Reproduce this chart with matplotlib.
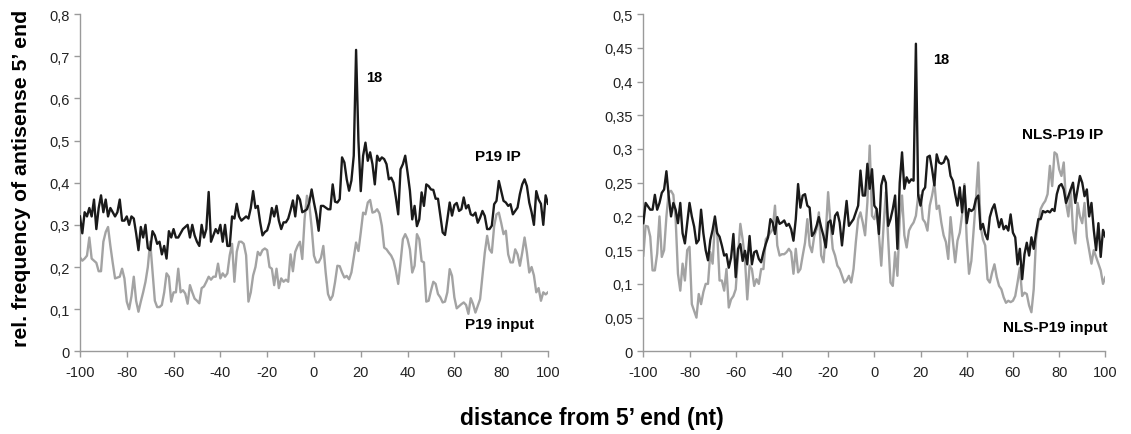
import numpy as np
import matplotlib
matplotlib.use("Agg")
import matplotlib.pyplot as plt

plt.rcParams["font.family"] = ["Liberation Sans", "DejaVu Sans"]

# ── data ──────────────────────────────────────────────────────────────────────
pos = np.arange(-100, 101)          # distance from 5' end (nt)

p19_ip = [
    0.32, 0.28, 0.33, 0.32, 0.34, 0.32, 0.36, 0.29, 0.34, 0.37,
    0.33, 0.36, 0.32, 0.34, 0.33, 0.32, 0.33, 0.36, 0.31, 0.31,
    0.32, 0.30, 0.32, 0.315, 0.28, 0.24, 0.295, 0.27, 0.30, 0.245,
    0.24, 0.285, 0.275, 0.255, 0.26, 0.23, 0.25, 0.22, 0.285, 0.27,
    0.29, 0.27, 0.27, 0.28, 0.29, 0.295, 0.30,
    0.27, 0.30, 0.275, 0.26, 0.25, 0.30, 0.27, 0.29, 0.378, 0.26,
    0.275, 0.29, 0.28, 0.30, 0.26, 0.30, 0.25, 0.25, 0.32, 0.315,
    0.35, 0.32, 0.31, 0.315, 0.32, 0.315, 0.34, 0.38, 0.34, 0.345,
    0.306, 0.275, 0.283, 0.287, 0.306, 0.34, 0.32, 0.345, 0.31, 0.29,
    0.306, 0.306, 0.315, 0.335, 0.358, 0.32, 0.37, 0.36,
    0.330, 0.333, 0.337, 0.353, 0.384, 0.353, 0.325, 0.286, 0.345, 0.345,
    0.341, 0.337, 0.337, 0.396, 0.355, 0.353, 0.361, 0.460, 0.448, 0.408,
    0.381, 0.405, 0.464, 0.715, 0.50, 0.38, 0.464, 0.495, 0.452, 0.472,
    0.444, 0.396, 0.464, 0.452, 0.460, 0.456, 0.444, 0.408, 0.412, 0.400,
    0.365, 0.325, 0.432, 0.444, 0.464, 0.424, 0.381,
    0.313, 0.345, 0.297, 0.313, 0.377, 0.345, 0.396, 0.392, 0.384, 0.383,
    0.362, 0.362, 0.322, 0.282, 0.276, 0.313, 0.353, 0.322, 0.347, 0.352,
    0.333, 0.337, 0.365, 0.339, 0.347, 0.325, 0.322, 0.329, 0.305, 0.317,
    0.333, 0.321, 0.290, 0.290, 0.298, 0.349, 0.357, 0.404, 0.380, 0.357,
    0.353, 0.345, 0.349, 0.325, 0.333, 0.341, 0.373, 0.396, 0.408, 0.392,
    0.353,
    0.33, 0.30, 0.38, 0.36, 0.35, 0.30, 0.37, 0.35,
]

p19_input = [
    0.223, 0.215, 0.22, 0.227, 0.27, 0.22, 0.215, 0.21, 0.19, 0.19,
    0.26, 0.283, 0.295, 0.25, 0.21, 0.173, 0.175, 0.177, 0.196, 0.173,
    0.118, 0.10, 0.13, 0.177, 0.12, 0.094, 0.118, 0.14, 0.165, 0.20,
    0.26, 0.19, 0.12, 0.105, 0.105, 0.11, 0.14, 0.185, 0.177, 0.118,
    0.14, 0.14, 0.196, 0.14, 0.145, 0.137, 0.113,
    0.157, 0.14, 0.125, 0.12, 0.114, 0.15, 0.154, 0.165, 0.177, 0.17,
    0.177, 0.177, 0.208, 0.173, 0.185, 0.177, 0.185, 0.228, 0.255, 0.165,
    0.236, 0.26, 0.26, 0.255, 0.228, 0.118, 0.14, 0.18, 0.20, 0.236,
    0.228, 0.24, 0.244, 0.24, 0.20, 0.196, 0.157, 0.196, 0.15, 0.173,
    0.165, 0.17, 0.165, 0.23, 0.19, 0.236, 0.25, 0.26,
    0.219, 0.314, 0.369, 0.349, 0.294, 0.227, 0.211, 0.211, 0.222, 0.250,
    0.187, 0.136, 0.122, 0.132, 0.164, 0.203, 0.202, 0.187, 0.175, 0.179,
    0.171, 0.187, 0.222, 0.258, 0.238, 0.282, 0.329, 0.325, 0.353, 0.359,
    0.329, 0.331, 0.337, 0.327, 0.298, 0.246, 0.242, 0.234, 0.227, 0.215,
    0.191, 0.160, 0.211, 0.266, 0.278, 0.266, 0.242,
    0.187, 0.203, 0.278, 0.266, 0.214, 0.211, 0.118, 0.120, 0.144, 0.165,
    0.160, 0.136, 0.128, 0.116, 0.118, 0.140, 0.195, 0.179, 0.128, 0.102,
    0.107, 0.112, 0.116, 0.110, 0.089, 0.126, 0.112, 0.092, 0.108, 0.124,
    0.179, 0.234, 0.274, 0.242, 0.234, 0.297, 0.325, 0.329, 0.305, 0.278,
    0.286, 0.230, 0.211, 0.211, 0.242, 0.230, 0.203, 0.234, 0.270, 0.234,
    0.187,
    0.20, 0.18, 0.14, 0.15, 0.12, 0.14, 0.135, 0.14,
]

nls_ip = [
    0.19, 0.22, 0.215, 0.21, 0.21, 0.232, 0.21, 0.22, 0.235, 0.24,
    0.267, 0.23, 0.20, 0.22, 0.21, 0.19, 0.22, 0.175, 0.16, 0.19,
    0.22, 0.20, 0.185, 0.16, 0.165, 0.21, 0.175, 0.15, 0.135, 0.165,
    0.18, 0.20, 0.175, 0.17, 0.157,
    0.142, 0.144, 0.124, 0.139, 0.174, 0.110, 0.152, 0.159, 0.134, 0.149,
    0.129, 0.171, 0.129, 0.147, 0.149, 0.137, 0.132, 0.147, 0.159, 0.169,
    0.196, 0.191, 0.174, 0.199, 0.189, 0.191, 0.194, 0.186, 0.189, 0.181,
    0.164, 0.196, 0.248, 0.213, 0.231, 0.233, 0.216, 0.213, 0.171, 0.176,
    0.186, 0.199, 0.184, 0.171, 0.154, 0.191, 0.194, 0.174,
    0.201, 0.206, 0.191, 0.157, 0.191, 0.223, 0.186, 0.191, 0.196, 0.206,
    0.216, 0.268, 0.231, 0.231, 0.278, 0.241, 0.270, 0.216, 0.211, 0.174,
    0.246, 0.260, 0.250, 0.186, 0.196, 0.211, 0.231, 0.152, 0.250, 0.295,
    0.241, 0.258, 0.250, 0.255, 0.253, 0.456, 0.231, 0.216, 0.238, 0.243,
    0.288, 0.290, 0.270, 0.246, 0.292, 0.280, 0.278,
    0.28, 0.289, 0.283, 0.260, 0.253, 0.233, 0.216, 0.243, 0.206, 0.245,
    0.19, 0.211, 0.208, 0.211, 0.226, 0.231, 0.181, 0.189, 0.174, 0.166,
    0.199, 0.211, 0.218, 0.201, 0.184, 0.196, 0.181, 0.186, 0.179, 0.203,
    0.176, 0.169, 0.129, 0.152, 0.107, 0.144, 0.161, 0.142, 0.169, 0.152,
    0.176, 0.196, 0.196, 0.208, 0.206, 0.208, 0.206, 0.211, 0.208, 0.233,
    0.245, 0.248,
    0.24, 0.22, 0.23, 0.24, 0.25, 0.22, 0.24, 0.26, 0.25, 0.23,
    0.24, 0.20, 0.22, 0.18, 0.15, 0.19, 0.14, 0.18, 0.17,
]

nls_input = [
    0.142, 0.186, 0.185, 0.17, 0.12, 0.12, 0.145, 0.20, 0.14, 0.15,
    0.20, 0.236, 0.238, 0.232, 0.196, 0.115, 0.09, 0.13, 0.105, 0.15,
    0.155, 0.07, 0.06, 0.05, 0.085, 0.07, 0.088, 0.1, 0.1, 0.147,
    0.13, 0.19, 0.175, 0.105, 0.105,
    0.090, 0.122, 0.065, 0.077, 0.082, 0.092, 0.142, 0.189, 0.166, 0.137,
    0.077, 0.127, 0.122, 0.097, 0.107, 0.100, 0.122, 0.122, 0.166, 0.171,
    0.176, 0.181, 0.216, 0.157, 0.142, 0.144, 0.144, 0.147, 0.152, 0.147,
    0.115, 0.152, 0.117, 0.122, 0.142, 0.161, 0.196, 0.157, 0.147, 0.171,
    0.181, 0.206, 0.142, 0.132, 0.176,
    0.236, 0.191, 0.152, 0.142, 0.127, 0.122, 0.112, 0.102, 0.105, 0.112,
    0.102, 0.122, 0.162, 0.196, 0.206, 0.191, 0.172, 0.221, 0.305, 0.201,
    0.196, 0.211, 0.172, 0.127, 0.186, 0.236, 0.166, 0.102, 0.097, 0.147,
    0.112, 0.196, 0.231, 0.172, 0.154, 0.179, 0.186, 0.191, 0.201, 0.231,
    0.231, 0.196, 0.191, 0.179, 0.216, 0.231, 0.250, 0.211, 0.216, 0.191,
    0.172, 0.162, 0.137, 0.199, 0.164, 0.132, 0.164, 0.176, 0.203, 0.248,
    0.166, 0.115, 0.134, 0.181, 0.226, 0.280, 0.186, 0.166, 0.157, 0.107,
    0.102, 0.117, 0.129, 0.110, 0.097, 0.092, 0.080, 0.072, 0.075, 0.073,
    0.075, 0.082, 0.102, 0.124, 0.082, 0.087, 0.085, 0.068, 0.058, 0.092,
    0.166, 0.191, 0.211, 0.218, 0.223, 0.233, 0.275, 0.245, 0.295, 0.292,
    0.270, 0.260,
    0.28, 0.22, 0.20, 0.24, 0.18, 0.16, 0.22, 0.20, 0.19, 0.22,
    0.17, 0.15, 0.13, 0.15, 0.14, 0.13, 0.12, 0.10, 0.11,
]

left_yticks = [0, 0.1, 0.2, 0.3, 0.4, 0.5, 0.6, 0.7, 0.8]
left_ylabels = ["0", "0,1", "0,2", "0,3", "0,4", "0,5", "0,6", "0,7", "0,8"]
right_yticks = [0, 0.05, 0.1, 0.15, 0.2, 0.25, 0.3, 0.35, 0.4, 0.45, 0.5]
right_ylabels = ["0", "0,05", "0,1", "0,15", "0,2", "0,25", "0,3", "0,35",
                 "0,4", "0,45", "0,5"]
xticks = [-100, -80, -60, -40, -20, 0, 20, 40, 60, 80, 100]

BLACK = "#1a1a1a"
GREY = "#a3a3a3"
AXC = "#9a9a9a"

fig = plt.figure(figsize=(11.31, 4.35), dpi=100)
ax1 = fig.add_axes([0.0707, 0.190, 0.4138, 0.7754])
ax2 = fig.add_axes([0.5688, 0.190, 0.4085, 0.7754])


def style(ax, yticks, ylabels, ymax):
    ax.set_xlim(-100, 100)
    ax.set_ylim(0, ymax)
    ax.set_xticks(xticks)
    ax.set_xticklabels([str(t) for t in xticks])
    ax.set_yticks(yticks)
    ax.set_yticklabels(ylabels)
    for s in ("top", "right"):
        ax.spines[s].set_visible(False)
    for s in ("left", "bottom"):
        ax.spines[s].set_color(AXC)
        ax.spines[s].set_linewidth(1.0)
    ax.tick_params(axis="both", colors=AXC, labelcolor="#222222",
                   labelsize=10.5, length=4, width=1.0)
    ax.tick_params(axis="x", pad=6)


ax1.plot(pos, p19_input, color=GREY, lw=1.7, zorder=2)
ax1.plot(pos, p19_ip, color=BLACK, lw=1.7, zorder=3)
style(ax1, left_yticks, left_ylabels, 0.8)
ax1.text(22.5, 0.65, "18", fontsize=10.5, fontweight="bold", va="center")
ax1.text(88.5, 0.463, "P19 IP", fontsize=11, fontweight="bold",
         ha="right", va="center")
ax1.text(94, 0.065, "P19 input", fontsize=11, fontweight="bold",
         ha="right", va="center")

ax2.plot(pos, nls_input, color=GREY, lw=1.7, zorder=2)
ax2.plot(pos, nls_ip, color=BLACK, lw=1.7, zorder=3)
style(ax2, right_yticks, right_ylabels, 0.5)
ax2.text(25.5, 0.433, "18", fontsize=10.5, fontweight="bold", va="center")
ax2.text(99, 0.322, "NLS-P19 IP", fontsize=11, fontweight="bold",
         ha="right", va="center")
ax2.text(101, 0.036, "NLS-P19 input", fontsize=11, fontweight="bold",
         ha="right", va="center")

fig.text(0.019, 0.59, "rel. frequency of antisense 5’ end", rotation=90,
         fontsize=15.3, fontweight="bold", ha="center", va="center")
fig.text(0.523, 0.038, "distance from 5’ end (nt)", fontsize=16.5,
         fontweight="bold", ha="center", va="center")

fig.savefig("out.png", dpi=100)
